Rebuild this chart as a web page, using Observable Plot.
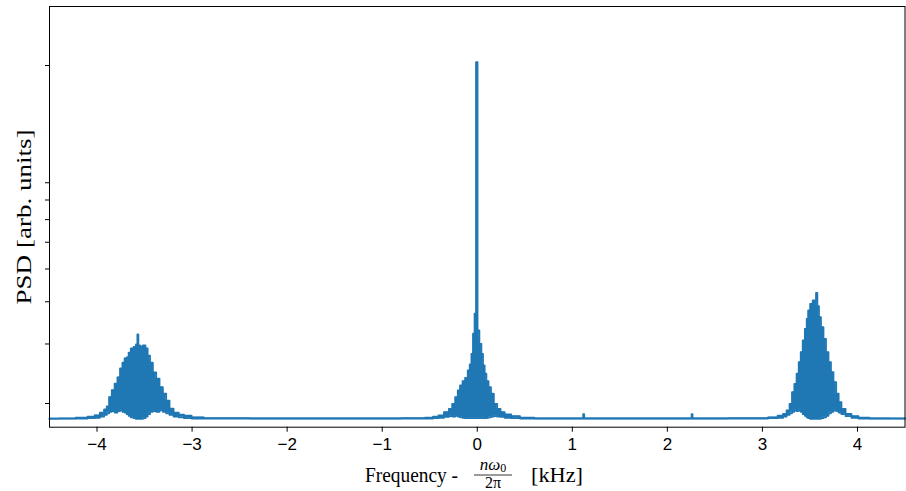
<!DOCTYPE html>
<html><head><meta charset="utf-8">
<script src="https://cdn.jsdelivr.net/npm/d3@7"></script>
<script src="https://cdn.jsdelivr.net/npm/@observablehq/plot@0.6"></script>
<style>body{margin:0;background:#fff} #chart{width:906px;height:491px}</style>
</head><body><div id="chart"></div>
<script>
// Frequency (kHz, relative to n*omega0/2pi)
const freq = [
  -4.5, -4.3, -4.15, -4.05, -4.0,
  -3.94, -3.91, -3.885, -3.86, -3.83, -3.80, -3.77, -3.745, -3.72, -3.70, -3.675, -3.66, -3.63, -3.60, -3.58, -3.57, -3.56, -3.535, -3.50, -3.48, -3.455, -3.43, -3.395, -3.36, -3.325, -3.29, -3.255, -3.22, -3.17, -3.11, -3.06, -2.95, -2.8,
  -2.0, -1.0, -0.6,
  -0.50, -0.43, -0.385, -0.315, -0.28, -0.246, -0.217, -0.193, -0.168, -0.141, -0.112, -0.088, -0.070, -0.052, -0.036, -0.02, -0.004, 0.01, 0.035, 0.052, 0.069, 0.087, 0.105, 0.132, 0.157, 0.192, 0.227, 0.262, 0.315, 0.40, 0.50, 0.7,
  1.11, 1.12, 1.13, 2.25, 2.26, 2.27,
  3.0, 3.12, 3.20, 3.237, 3.271, 3.30, 3.324, 3.349, 3.370, 3.394, 3.412, 3.436, 3.457, 3.475, 3.489, 3.517, 3.541, 3.560, 3.570, 3.586, 3.604, 3.628, 3.657, 3.681, 3.709, 3.733, 3.762, 3.790, 3.814, 3.849, 3.901, 3.972, 4.05, 4.2, 4.5
];
// Upper envelope of the PSD (arb. units)
const psdHi = [
  1.805, 1.806, 1.815, 1.83, 1.845,
  1.88, 1.92, 1.96, 2.09, 2.19, 2.29, 2.39, 2.54, 2.64, 2.72, 2.74, 2.83, 2.91, 2.94, 2.99, 3.20, 2.97, 2.95, 2.97, 2.91, 2.77, 2.64, 2.47, 2.37, 2.235, 2.14, 2.04, 1.93, 1.88, 1.855, 1.84, 1.82, 1.81,
  1.808, 1.808, 1.81,
  1.815, 1.83, 1.843, 1.885, 1.929, 1.996, 2.088, 2.185, 2.261, 2.328, 2.383, 2.504, 2.609, 2.806, 3.216, 3.686, 20.45, 3.289, 3.003, 2.806, 2.591, 2.449, 2.328, 2.235, 2.137, 1.996, 1.929, 1.885, 1.856, 1.834, 1.815, 1.808,
  1.808, 1.86, 1.808, 1.808, 1.86, 1.808,
  1.81, 1.82, 1.84, 1.864, 1.907, 1.996, 2.160, 2.287, 2.449, 2.649, 2.837, 3.073, 3.327, 3.562, 3.768, 3.945, 4.034, 4.03, 4.252, 3.881, 3.601, 3.363, 3.108, 2.837, 2.649, 2.476, 2.312, 2.137, 2.018, 1.929, 1.864, 1.834, 1.815, 1.808, 1.806
];
// Lower envelope of the PSD (arb. units)
const psdLo = [
  1.804, 1.804, 1.805, 1.81, 1.815,
  1.83, 1.85, 1.87, 1.89, 1.90, 1.88, 1.90, 1.91, 1.89, 1.88, 1.86, 1.84, 1.82, 1.81, 1.80, 1.80, 1.80, 1.80, 1.81, 1.83, 1.86, 1.89, 1.90, 1.89, 1.91, 1.89, 1.87, 1.85, 1.83, 1.82, 1.81, 1.805, 1.805,
  1.803, 1.803, 1.805,
  1.805, 1.81, 1.815, 1.825, 1.835, 1.83, 1.84, 1.83, 1.82, 1.815, 1.81, 1.81, 1.81, 1.81, 1.81, 1.81, 1.81, 1.81, 1.81, 1.81, 1.81, 1.81, 1.815, 1.82, 1.83, 1.835, 1.83, 1.825, 1.815, 1.81, 1.805, 1.804,
  1.803, 1.803, 1.803, 1.803, 1.803, 1.803,
  1.805, 1.81, 1.815, 1.83, 1.85, 1.87, 1.89, 1.91, 1.90, 1.91, 1.89, 1.86, 1.84, 1.82, 1.81, 1.80, 1.80, 1.80, 1.80, 1.80, 1.80, 1.81, 1.82, 1.84, 1.87, 1.89, 1.91, 1.90, 1.88, 1.86, 1.835, 1.815, 1.805, 1.804, 1.804
];
const xTicks = [-4, -3, -2, -1, 0, 1, 2, 3, 4];
const yTicks = [2, 3, 4, 5, 6, 7, 8, 9, 20];
const yLabel = "PSD [arb. units]";
const xLabelMain = "Frequency -";
const xLabelNum = "nω";
const xLabelSub = "0";
const xLabelDen = "2π";
const xLabelUnit = "[kHz]";

const data = freq.map((f, i) => ({f, hi: psdHi[i], lo: psdLo[i]}));
const color = "#1f77b4";
const serif = "'Liberation Serif', 'DejaVu Serif', serif";
const sans = "'Liberation Sans', 'DejaVu Sans', sans-serif";

const chart = Plot.plot({
  width: 906, height: 491,
  marginLeft: 49, marginRight: 1.5, marginTop: 6, marginBottom: 64.3,
  style: {background: "white", color: "black", fontFamily: sans},
  x: {domain: [-4.5, 4.5]},
  y: {type: "log", domain: [1.7017, 29.9]},
  marks: [
    Plot.areaY(data, {x: "f", y1: "lo", y2: "hi", fill: color, curve: "step"}),
    Plot.line(data, {x: "f", y: "hi", stroke: color, strokeWidth: 1.8, curve: "step"}),
    Plot.line(data, {x: "f", y: "lo", stroke: color, strokeWidth: 1.8, curve: "step"}),
    Plot.axisX(xTicks, {tickSize: 5, tickPadding: 6, label: null, fontSize: 17,
      tickFormat: d => d < 0 ? "\u2212" + Math.abs(d) : String(d)}),
    Plot.axisY(yTicks, {tickSize: 4, label: null, tickFormat: () => ""}),
    Plot.frame({stroke: "black", strokeWidth: 1})
  ]
});
document.getElementById("chart").appendChild(chart);

const svg = d3.select(chart);
svg.append("text")
  .attr("transform", "translate(23,217) rotate(-90)")
  .attr("text-anchor", "middle").attr("dominant-baseline", "central")
  .attr("font-family", serif).attr("font-size", 22).attr("fill", "black")
  .attr("textLength", 175).attr("lengthAdjust", "spacingAndGlyphs")
  .text(yLabel);

const g = svg.append("g").attr("font-family", serif).attr("fill", "black");
const base = 482;
const x0 = 365, w1 = 93, w3 = 52;
const fracC = 493;
g.append("text").attr("x", x0).attr("y", base).attr("font-size", 22).attr("text-anchor", "start")
  .attr("textLength", w1).attr("lengthAdjust", "spacingAndGlyphs").text(xLabelMain);
const num = g.append("text").attr("x", fracC).attr("y", 470).attr("font-size", 17).attr("text-anchor", "middle");
num.append("tspan").attr("font-style", "italic").text(xLabelNum);
num.append("tspan").attr("font-size", 12).attr("dy", 2).text(xLabelSub);
g.append("text").attr("x", fracC).attr("y", 487.5).attr("font-size", 16).attr("text-anchor", "middle").text(xLabelDen);
g.append("line").attr("x1", fracC - 19).attr("x2", fracC + 19)
  .attr("y1", 475).attr("y2", 475).attr("stroke", "black").attr("stroke-width", 0.8);
g.append("text").attr("x", 531).attr("y", base).attr("font-size", 22).attr("text-anchor", "start")
  .attr("textLength", w3).attr("lengthAdjust", "spacingAndGlyphs").text(xLabelUnit);
</script></body></html>
